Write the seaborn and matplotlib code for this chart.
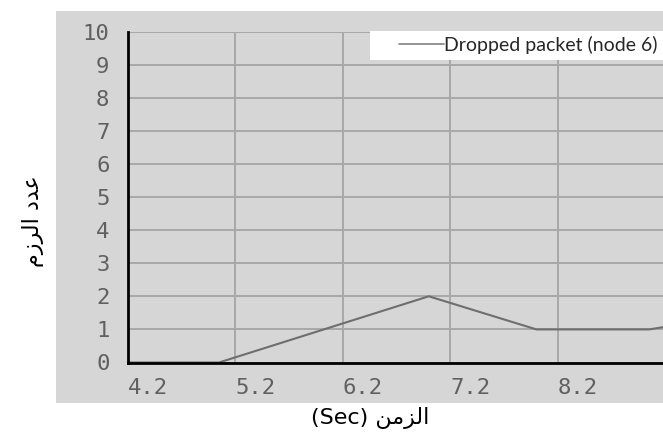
import matplotlib
matplotlib.use("Agg")
import matplotlib.pyplot as plt
import matplotlib.patches as mpatches
import seaborn as sns
import pandas as pd

# Dropped packets at node 6 over simulation time
time_sec = [4.2, 5.05, 7.0, 8.0, 9.05, 9.2]
dropped = [0, 0, 2, 1, 1, 1.08]
x_ticks = [4.2, 5.2, 6.2, 7.2, 8.2]
y_ticks = [0, 1, 2, 3, 4, 5, 6, 7, 8, 9, 10]
series_name = "Dropped packet (node 6)"

# Arabic labels in presentation forms, visual (left-to-right) order
y_label = "\uFEE1\uFEAF\uFEAE\uFEDF\uFE8D \uFEA9\uFEAA\uFECB"       # عدد الرزم
x_label = "(Sec) \uFEE6\uFEE3\uFEB0\uFEDF\uFE8D"                      # الزمن (Sec)

df = pd.DataFrame({"t": time_sec, "n": dropped})

sns.set_theme(style="white")
plt.rcParams["font.family"] = ["DejaVu Sans"]

W, H = 663, 432
fig = plt.figure(figsize=(W / 100, H / 100), dpi=100)
fig.patch.set_facecolor("white")

BG = "#d6d6d6"
# gray panel behind the chart
panel = mpatches.Rectangle((56 / W, 1 - 403 / H), (W - 56) / W, (403 - 11) / H,
                           transform=fig.transFigure, facecolor=BG,
                           edgecolor="none", zorder=-10)
fig.patches.append(panel)

left, bottom, top = 127.5 / W, 1 - 362.5 / H, 1 - 31.5 / H
right = 665.5 / W
ax = fig.add_axes([left, bottom, right - left, top - bottom])
ax.set_zorder(1)
ax.set_facecolor(BG)

sns.lineplot(data=df, x="t", y="n", ax=ax, color="#6e6e6e", linewidth=1.5,
             label=series_name, zorder=3, clip_on=True)

ax.set_xlim(4.2, 9.2)
ax.set_ylim(0, 10)
ax.set_xticks(x_ticks)
ax.set_yticks(y_ticks)
ax.set_xticklabels([f"{v:.1f}" for v in x_ticks])
ax.set_yticklabels([str(v) for v in y_ticks])

ax.grid(True, color="#a8a8a8", linewidth=1.4)
ax.set_axisbelow(True)

for s in ["top", "right"]:
    ax.spines[s].set_visible(False)
for s in ["left", "bottom"]:
    ax.spines[s].set_color("black")
    ax.spines[s].set_linewidth(2)
    ax.spines[s].set_zorder(4)

ax.tick_params(axis="both", direction="in", length=4, width=1.2, color="black",
               labelcolor="#606060", labelsize=16)
ax.tick_params(axis="x", pad=11)
ax.tick_params(axis="y", pad=13)
for lab in ax.get_xticklabels():
    lab.set_fontfamily("DejaVu Sans Mono")
    lab.set_horizontalalignment("left")
for lab in ax.get_yticklabels():
    lab.set_fontfamily("DejaVu Sans Mono")

ax.set_xlabel("")
ax.set_ylabel("")
fig.text(370 / W, 1 - 418 / H, x_label, ha="center", va="center", fontsize=16,
         color="black", family=["DejaVu Sans"])
fig.text(33 / W, 1 - 221 / H, y_label, ha="center", va="center", rotation=90,
         fontsize=16, color="black", family=["DejaVu Sans"])

# white legend strip at the top-right
strip = mpatches.Rectangle((370 / W, 1 - 60 / H), (W - 370) / W, 29 / H,
                           transform=fig.transFigure, facecolor="white",
                           edgecolor="none", zorder=4)
fig.add_artist(strip)
leg = ax.legend(loc="upper right", bbox_to_anchor=(662 / W, 1 - 31 / H),
                bbox_transform=fig.transFigure, frameon=False,
                prop={"family": "Lato", "size": 14}, handlelength=2.3,
                handletextpad=0.0, borderpad=0.25, borderaxespad=0)
for line in leg.get_lines():
    line.set_linewidth(1.2)
    line.set_color("#808080")
leg.set_zorder(6)
fig.add_artist(leg)

fig.savefig("out.png", dpi=100, facecolor="white")
